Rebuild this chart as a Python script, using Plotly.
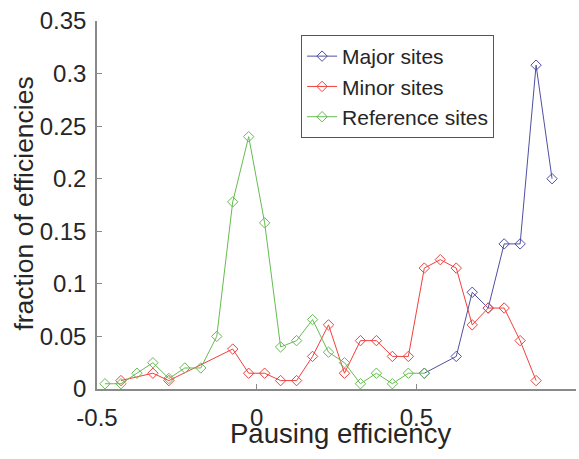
import plotly.graph_objects as go

# Histogram of pausing efficiencies (bin centres, fraction per bin)
major_x = [0.525, 0.625, 0.675, 0.725, 0.775, 0.825, 0.875, 0.925]
major_y = [0.015, 0.031, 0.092, 0.077, 0.138, 0.138, 0.308, 0.200]

minor_x = [-0.425, -0.325, -0.275, -0.075, -0.025, 0.025, 0.075, 0.125, 0.175,
           0.225, 0.275, 0.325, 0.375, 0.425, 0.475, 0.525, 0.575, 0.625,
           0.675, 0.725, 0.775, 0.825, 0.875]
minor_y = [0.008, 0.015, 0.008, 0.038, 0.015, 0.015, 0.008, 0.008, 0.031,
           0.061, 0.015, 0.046, 0.046, 0.031, 0.031, 0.115, 0.123, 0.115,
           0.061, 0.077, 0.077, 0.046, 0.008]

ref_x = [-0.475, -0.425, -0.375, -0.325, -0.275, -0.225, -0.175, -0.125, -0.075,
         -0.025, 0.025, 0.075, 0.125, 0.175, 0.225, 0.275, 0.325, 0.375,
         0.425, 0.475, 0.525]
ref_y = [0.005, 0.005, 0.015, 0.025, 0.010, 0.020, 0.020, 0.050, 0.178,
         0.240, 0.158, 0.040, 0.046, 0.066, 0.035, 0.025, 0.005, 0.015,
         0.005, 0.015, 0.015]

x_ticks = [-0.5, 0, 0.5, 1]
x_labels = ["-0.5", "0", "0.5", "1"]
y_ticks = [0, 0.05, 0.1, 0.15, 0.2, 0.25, 0.3, 0.35]
y_labels = ["0", "0.05", "0.1", "0.15", "0.2", "0.25", "0.3", "0.35"]

x_title = "Pausing efficiency"
y_title = "fraction of efficiencies"

series = [
    ("Major sites", major_x, major_y, "#4f4fa3"),
    ("Minor sites", minor_x, minor_y, "#f0403c"),
    ("Reference sites", ref_x, ref_y, "#66bb52"),
]

fig = go.Figure()
for name, xs, ys, color in series:
    fig.add_trace(go.Scatter(
        x=xs, y=ys, name=name, mode="lines+markers",
        line=dict(color=color, width=1),
        marker=dict(symbol="diamond-open", size=8, color=color,
                    line=dict(width=1, color=color)),
        cliponaxis=False,
    ))

font_family = "Arial, Liberation Sans, sans-serif"
axis_color = "#8a8a8a"
text_color = "#262626"

fig.update_layout(
    width=579, height=459,
    margin=dict(l=97, r=3, t=21, b=70),
    paper_bgcolor="white", plot_bgcolor="white",
    font=dict(family=font_family, color=text_color, size=24),
    showlegend=True,
    legend=dict(
        x=0.426, y=0.962, xanchor="left", yanchor="top",
        bgcolor="white", bordercolor="#555555", borderwidth=1,
        font=dict(size=21, family=font_family, color=text_color),
        itemwidth=30, tracegroupgap=0,
    ),
)

axis_common = dict(
    ticks="inside", ticklen=5, tickcolor=axis_color, tickwidth=1,
    showline=True, linecolor=axis_color, linewidth=1.5,
    showgrid=False, zeroline=False, mirror=False,
    tickfont=dict(size=24),
)
fig.update_xaxes(range=[-0.5, 1], tickvals=x_ticks, ticktext=x_labels,
                 ticklabelstandoff=6, **axis_common)
fig.update_yaxes(range=[0, 0.35], tickvals=y_ticks, ticktext=y_labels,
                 ticklabelstandoff=4, **axis_common)

# Axis titles
fig.add_annotation(text=x_title, xref="paper", yref="paper",
                   x=0.509, y=-0.121, xanchor="center", yanchor="middle",
                   showarrow=False, font=dict(size=27.5))
fig.add_annotation(text=y_title, xref="paper", yref="paper", textangle=-90,
                   x=-0.153, y=0.503, xanchor="center", yanchor="middle",
                   showarrow=False, font=dict(size=26.5))

fig.write_html("out.html")
